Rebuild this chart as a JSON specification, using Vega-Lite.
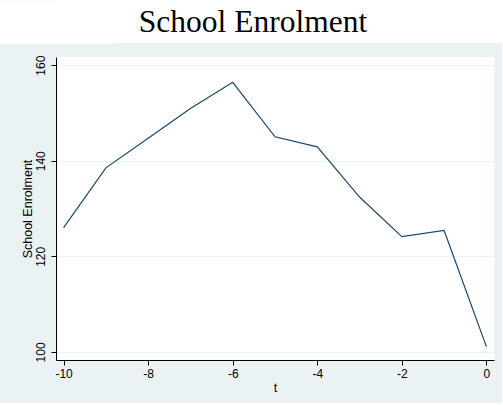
{
  "$schema": "https://vega.github.io/schema/vega-lite/v6.json",
  "background": "#eaf2f3",
  "padding": {"left": 21, "top": 0, "right": 0, "bottom": 9},
  "spacing": 12,
  "config": {"font": "Liberation Sans", "view": {"stroke": null}},
  "vconcat": [
    {
      "width": 446,
      "height": 43,
      "view": {"fill": "white", "stroke": null},
      "data": {"values": [{"label": "School Enrolment"}]},
      "mark": {"type": "text", "font": "Liberation Serif", "fontSize": 31.5, "color": "black", "baseline": "alphabetic", "dx": -26, "dy": 10},
      "encoding": {
        "text": {"field": "label"},
        "y": {
          "field": "label", "type": "nominal",
          "scale": {"type": "point"},
          "axis": {"title": null, "labels": false, "ticks": false, "grid": false, "domainColor": "white", "domainWidth": 114, "domainCap": "butt"}
        }
      }
    },
    {
      "width": 438,
      "height": 303,
      "view": {"fill": "white", "stroke": null},
      "data": {"values": [
        {"t": -10, "enrol": 126.0},
        {"t": -9, "enrol": 138.5},
        {"t": -8, "enrol": 144.7},
        {"t": -7, "enrol": 150.9},
        {"t": -6, "enrol": 156.4},
        {"t": -5, "enrol": 145.0},
        {"t": -4, "enrol": 142.9},
        {"t": -3, "enrol": 132.4},
        {"t": -2, "enrol": 124.1},
        {"t": -1, "enrol": 125.4},
        {"t": 0, "enrol": 101.1}
      ]},
      "mark": {"type": "line", "color": "#1a476f", "strokeWidth": 1.2},
      "encoding": {
        "x": {
          "field": "t", "type": "quantitative",
          "scale": {"domain": [-10.18, 0.18], "nice": false, "zero": false},
          "axis": {
            "title": "t", "values": [-10, -8, -6, -4, -2, 0], "grid": false,
            "labelExpr": "toString(datum.value)",
            "domainColor": "black", "tickColor": "black", "tickSize": 5,
            "labelFontSize": 12, "titleFontSize": 12.5, "labelPadding": 3, "titlePadding": 2,
            "labelColor": "black", "titleColor": "black", "titleFontWeight": "normal",
            "labelFlush": false, "labelOverlap": false
          }
        },
        "y": {
          "field": "enrol", "type": "quantitative",
          "scale": {"domain": [98.3, 161.7], "nice": false, "zero": false},
          "axis": {
            "title": "School Enrolment", "values": [100, 120, 140, 160], "grid": true,
            "gridColor": "#eaf2f3", "gridWidth": 1,
            "labelAngle": 270, "labelAlign": "center", "labelBaseline": "bottom",
            "domainColor": "black", "tickColor": "black", "tickSize": 5,
            "labelFontSize": 12, "titleFontSize": 12.5, "labelPadding": 4, "titlePadding": 0,
            "labelColor": "black", "titleColor": "black", "titleFontWeight": "normal",
            "labelFlush": false, "labelOverlap": false
          }
        }
      }
    }
  ]
}
